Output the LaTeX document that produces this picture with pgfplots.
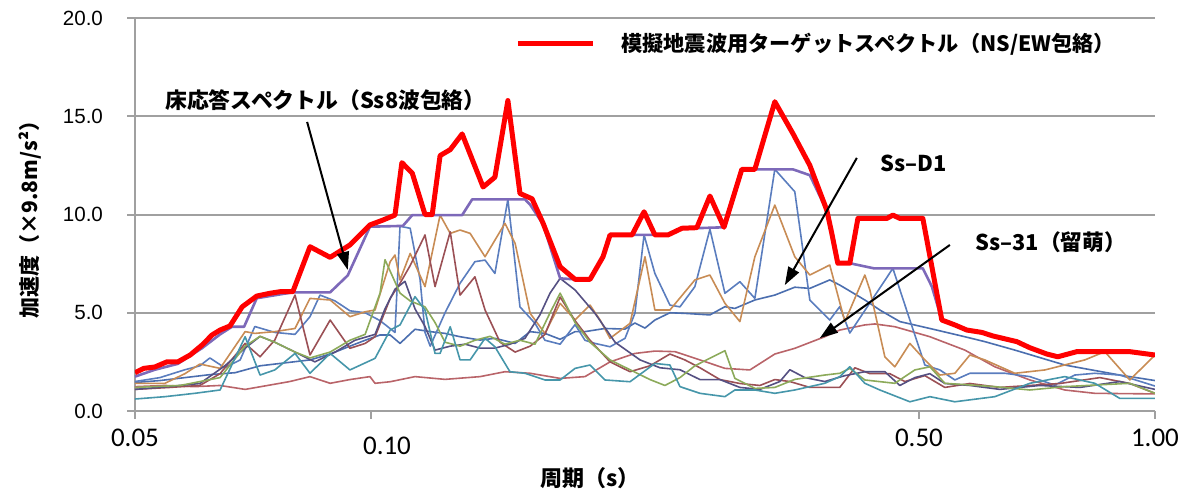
\documentclass[border=0pt]{standalone}
\usepackage{pgfplots}
\pgfplotsset{compat=1.18}
\usepackage{fontspec}
\setmainfont{Noto Sans CJK JP}
\newfontfamily\xtickfont{Carlito}
\newfontfamily\ytickfont{Liberation Sans}
\usetikzlibrary{arrows.meta}
\definecolor{gridgray}{RGB}{160,160,160}
\definecolor{cBlue}{RGB}{90,125,190}
\definecolor{cD1}{RGB}{75,110,175}
\definecolor{cTan}{RGB}{200,140,85}
\definecolor{cMaroon}{RGB}{155,80,85}
\definecolor{cS31}{RGB}{185,100,105}
\definecolor{cNavy}{RGB}{85,80,130}
\definecolor{cGreen}{RGB}{140,170,90}
\definecolor{cTeal}{RGB}{70,150,170}
\definecolor{cPurple}{RGB}{125,105,185}
\pgfplotsset{spec/.style={line width=0.8pt, line join=round, forget plot}}
\begin{document}
\begin{tikzpicture}
\useasboundingbox (-67.5pt,-42pt) rectangle (522.5pt,205.5pt);
\begin{axis}[
  at={(0pt,0pt)}, anchor=south west,
  scale only axis, width=510pt, height=196.5pt,
  xmode=log, xmin=0.05, xmax=1, ymin=0, ymax=20,
  xtick={0.05,0.5,1},
  xticklabels={0.05,0.50,1.00},
  extra x ticks={0.1},
  extra x tick labels={0.10},
  extra x tick style={xticklabel style={xshift=8pt, yshift=-4pt}},
  xminorticks=false,
  ytick={0,5,10,15,20}, yticklabels={0.0,5.0,10.0,15.0,20.0},
  axis lines=left, axis line style={-, draw=gridgray, line width=1pt},
  ymajorgrids, grid style={draw=gridgray, line width=1pt},
  tick align=outside, major tick length=4pt,
  tick style={draw=gridgray, line width=1pt},
  xticklabel style={font=\xtickfont\fontsize{13.5}{15}\selectfont, yshift=-1.5pt},
  yticklabel style={font=\ytickfont\fontsize{10.3}{12}\selectfont, xshift=-8.5pt},
  xlabel={周期（s）},
  ylabel={加速度（×9.8m/s²）},
  xlabel style={at={(axis description cs:0.446,-0.17)}, anchor=center, font=\bfseries\fontsize{11}{13}\selectfont},
  ylabel style={at={(axis description cs:-0.103,0.5)}, anchor=center, font=\bfseries\fontsize{10.5}{13}\selectfont},
  legend style={at={(axis description cs:0.3725,0.934)}, anchor=west, draw=none, fill=none, inner sep=0pt,
    font=\bfseries\fontsize{10.6}{12}\selectfont,
    /tikz/every odd column/.append style={column sep=11pt}},
  legend cell align=left,
  legend image code/.code={\draw[#1] (0pt,0pt) -- (37.5pt,0pt);},
]
% Ss-D1
\addplot[spec, cD1] coordinates {(0.0500,1.45) (0.0538,1.55) (0.0579,1.7) (0.0623,1.85) (0.0671,1.95) (0.0722,2.3) (0.0777,2.45) (0.0836,2.6) (0.0887,2.9) (0.0940,3.3) (0.0983,3.6) (0.1027,3.87) (0.1058,3.87) (0.1089,3.44) (0.1138,4.16) (0.1190,4.04) (0.1243,3.95) (0.1299,3.78) (0.1378,3.61) (0.1439,3.7) (0.1527,3.44) (0.1596,4.04) (0.1667,3.95) (0.1743,3.65) (0.1821,4.04) (0.1875,4.04) (0.1988,4.2) (0.2109,4.17) (0.2171,4.48) (0.2236,4.22) (0.2302,4.63) (0.2406,5.0) (0.2514,4.97) (0.2706,4.89) (0.2828,5.31) (0.2912,5.22) (0.3088,5.65) (0.3274,5.9) (0.3472,6.3) (0.3629,6.24) (0.3848,6.67) (0.3963,6.41) (0.4265,5.65) (0.4457,5.14) (0.4727,4.55) (0.5163,4.2) (0.5721,3.78) (0.6067,3.53) (0.6626,3.1) (0.7673,2.34) (0.9019,1.83) (1.0000,1.55)};
% Ss-31
\addplot[spec, cS31] coordinates {(0.0500,1.24) (0.0546,1.3) (0.0596,1.24) (0.0642,1.3) (0.0691,1.1) (0.0743,1.32) (0.0788,1.5) (0.0836,1.75) (0.0887,1.41) (0.0940,1.6) (0.0997,1.75) (0.1012,1.41) (0.1058,1.49) (0.1138,1.75) (0.1243,1.61) (0.1378,1.75) (0.1482,2.0) (0.1596,1.92) (0.1743,1.66) (0.1875,1.75) (0.2018,2.5) (0.2171,2.93) (0.2302,3.05) (0.2442,3.02) (0.2628,2.6) (0.2828,2.17) (0.3043,2.09) (0.3274,2.9) (0.3472,3.19) (0.3792,3.78) (0.3963,4.12) (0.4265,4.38) (0.4392,4.43) (0.4658,4.29) (0.5163,3.78) (0.5721,3.1) (0.6248,2.25) (0.6925,1.58) (0.7673,1.07) (0.8380,0.9) (1.0000,0.87)};
% blue spiky
\addplot[spec, cBlue] coordinates {(0.0500,1.5) (0.0538,1.7) (0.0579,2.1) (0.0605,2.3) (0.0623,2.7) (0.0651,2.2) (0.0681,2.6) (0.0711,4.3) (0.0754,4.0) (0.0800,3.9) (0.0836,4.8) (0.0861,5.9) (0.0900,5.6) (0.0940,5.1) (0.0983,5.0) (0.1027,4.6) (0.1073,4.0) (0.1089,9.4) (0.1122,9.3) (0.1155,6.7) (0.1172,4.0) (0.1190,3.3) (0.1243,5.0) (0.1299,6.5) (0.1357,7.6) (0.1398,7.68) (0.1439,7.0) (0.1495,10.77) (0.1549,5.3) (0.1619,4.46) (0.1667,3.6) (0.1743,3.4) (0.1821,4.4) (0.1875,3.6) (0.1931,3.44) (0.2018,3.27) (0.2109,3.7) (0.2171,4.98) (0.2230,8.96) (0.2302,7.0) (0.2406,5.39) (0.2478,5.3) (0.2589,6.33) (0.2706,9.25) (0.2828,5.99) (0.2955,6.58) (0.3088,5.73) (0.3274,12.3) (0.3472,11.16) (0.3629,5.65) (0.3848,4.63) (0.3963,5.31) (0.4081,3.97) (0.4329,5.5) (0.4631,7.26) (0.4868,4.63) (0.5087,2.34) (0.5316,2.09) (0.5556,1.58) (0.5806,1.92) (0.6434,1.92) (0.6925,1.75) (0.7451,1.32) (0.7902,1.83) (0.8380,1.92) (0.9019,1.83) (1.0000,1.27)};
% tan
\addplot[spec, cTan] coordinates {(0.0500,1.41) (0.0546,1.41) (0.0579,1.9) (0.0605,2.39) (0.0642,2.17) (0.0691,4.04) (0.0711,3.95) (0.0754,4.04) (0.0800,4.2) (0.0836,5.73) (0.0887,5.65) (0.0940,4.8) (0.0983,5.05) (0.1012,5.14) (0.1058,7.6) (0.1073,7.94) (0.1089,6.67) (0.1122,8.02) (0.1172,6.33) (0.1225,9.97) (0.1262,9.04) (0.1299,9.21) (0.1338,9.04) (0.1398,7.85) (0.1482,9.55) (0.1527,8.53) (0.1596,4.97) (0.1667,3.95) (0.1743,5.48) (0.1821,4.63) (0.1903,5.39) (0.1960,4.63) (0.2018,3.7) (0.2140,4.46) (0.2236,7.85) (0.2302,5.14) (0.2406,5.14) (0.2589,6.67) (0.2706,6.92) (0.2828,5.48) (0.2955,4.55) (0.3088,7.85) (0.3274,10.48) (0.3472,7.85) (0.3629,6.92) (0.3848,7.43) (0.4022,4.55) (0.4265,6.92) (0.4329,6.16) (0.4523,2.76) (0.4658,2.25) (0.4868,3.44) (0.5087,2.6) (0.5316,1.83) (0.5556,1.92) (0.5806,2.85) (0.6067,2.6) (0.6626,1.92) (0.7236,2.09) (0.8138,2.6) (0.8630,3.02) (0.9288,1.58) (1.0000,2.85)};
% maroon spiky
\addplot[spec, cMaroon] coordinates {(0.0500,1.1) (0.0554,1.2) (0.0605,1.3) (0.0642,1.9) (0.0691,3.44) (0.0722,2.76) (0.0754,3.61) (0.0800,5.9) (0.0836,2.85) (0.0887,4.63) (0.0940,3.19) (0.0983,3.44) (0.1012,3.78) (0.1058,5.73) (0.1089,6.5) (0.1122,7.4) (0.1172,8.96) (0.1207,6.33) (0.1262,9.12) (0.1299,5.9) (0.1357,6.83) (0.1398,5.14) (0.1461,3.5) (0.1527,3.0) (0.1596,3.3) (0.1667,3.9) (0.1743,5.8) (0.1821,4.6) (0.1903,3.6) (0.2018,2.5) (0.2140,2.0) (0.2269,2.3) (0.2406,2.9) (0.2514,2.6) (0.2628,2.2) (0.2787,1.6) (0.2955,1.4) (0.3134,1.3) (0.3274,1.6) (0.3422,1.5) (0.3629,1.2) (0.3963,1.2) (0.4142,2.2) (0.4329,1.9) (0.4590,1.9) (0.4797,1.5) (0.5087,1.8) (0.5395,1.2) (0.5806,1.4) (0.6341,1.2) (0.6925,1.3) (0.7562,1.4) (0.8505,1.7) (0.9288,1.4) (1.0000,0.9)};
% navy
\addplot[spec, cNavy] coordinates {(0.0500,1.1) (0.0554,1.25) (0.0605,1.4) (0.0651,2.3) (0.0691,3.2) (0.0722,3.8) (0.0754,3.5) (0.0800,3.0) (0.0848,2.5) (0.0900,3.0) (0.0954,3.6) (0.1012,3.9) (0.1042,5.2) (0.1073,6.2) (0.1105,6.6) (0.1138,5.2) (0.1172,4.3) (0.1207,3.1) (0.1262,3.3) (0.1318,3.4) (0.1378,3.2) (0.1439,3.2) (0.1504,3.4) (0.1572,3.7) (0.1643,4.9) (0.1692,6.0) (0.1743,6.75) (0.1821,6.16) (0.1931,4.97) (0.2048,3.5) (0.2204,2.6) (0.2337,2.2) (0.2478,2.1) (0.2628,1.6) (0.2787,1.6) (0.2955,1.2) (0.3134,1.1) (0.3323,1.5) (0.3422,2.1) (0.3576,1.7) (0.3792,1.5) (0.4022,1.8) (0.4265,2.0) (0.4523,2.0) (0.4727,1.3) (0.4940,1.7) (0.5163,1.9) (0.5395,1.4) (0.5806,1.3) (0.6341,1.1) (0.7130,1.3) (0.8019,1.2) (0.9019,1.5) (1.0000,1.1)};
% green
\addplot[spec, cGreen] coordinates {(0.0500,1.2) (0.0571,1.3) (0.0642,1.7) (0.0691,3.3) (0.0722,3.8) (0.0754,3.5) (0.0800,3.0) (0.0836,2.7) (0.0887,3.0) (0.0940,3.6) (0.0983,3.9) (0.1027,6.0) (0.1042,7.7) (0.1089,6.0) (0.1122,5.6) (0.1172,5.3) (0.1207,4.5) (0.1243,3.5) (0.1299,3.3) (0.1357,3.6) (0.1419,3.8) (0.1482,3.4) (0.1549,3.6) (0.1619,3.4) (0.1692,5.0) (0.1743,6.0) (0.1821,4.5) (0.1903,3.5) (0.2018,2.6) (0.2140,2.1) (0.2269,1.6) (0.2371,1.3) (0.2478,1.7) (0.2589,2.3) (0.2828,3.07) (0.2912,1.66) (0.3088,1.15) (0.3274,1.2) (0.3472,1.61) (0.3792,1.83) (0.3963,1.92) (0.4081,2.17) (0.4265,1.58) (0.4658,1.41) (0.4940,2.09) (0.5163,2.25) (0.5395,1.41) (0.6248,1.24) (0.6925,1.07) (0.7673,1.24) (0.8380,1.32) (0.9288,1.41) (1.0000,0.9)};
% teal
\addplot[spec, cTeal] coordinates {(0.0500,0.61) (0.0546,0.73) (0.0596,0.9) (0.0642,1.07) (0.0691,3.78) (0.0722,1.83) (0.0754,2.09) (0.0800,2.93) (0.0836,1.92) (0.0887,2.93) (0.0940,2.09) (0.1012,2.68) (0.1058,4.12) (0.1089,4.38) (0.1138,5.82) (0.1172,5.14) (0.1207,2.93) (0.1225,2.93) (0.1262,4.29) (0.1299,2.6) (0.1338,2.6) (0.1398,3.7) (0.1439,3.27) (0.1504,2.0) (0.1572,1.92) (0.1667,1.58) (0.1743,1.58) (0.1821,2.17) (0.1903,2.34) (0.1988,1.58) (0.2140,1.49) (0.2302,2.42) (0.2406,2.34) (0.2478,1.24) (0.2628,0.9) (0.2828,0.73) (0.2912,1.07) (0.3088,1.07) (0.3274,0.9) (0.3472,1.07) (0.3792,1.41) (0.3963,1.75) (0.4081,2.25) (0.4265,1.41) (0.4457,1.07) (0.4868,0.47) (0.5163,0.73) (0.5556,0.47) (0.6248,0.73) (0.6925,1.41) (0.7673,1.75) (0.8380,1.41) (0.9019,0.64) (1.0000,0.64)};
% Ss8 envelope (purple)
\addplot[cPurple, line width=1.3pt, line join=round, forget plot] coordinates {(0.0500,1.75) (0.0530,2.1) (0.0567,2.4) (0.0609,3.2) (0.0642,3.9) (0.0665,4.29) (0.0689,4.29) (0.0715,5.74) (0.0795,6.04) (0.0887,6.04) (0.0934,6.9) (0.0997,9.38) (0.1098,9.42) (0.1129,9.97) (0.1307,9.97) (0.1346,10.77) (0.1572,10.77) (0.1596,10.5) (0.1658,9.5) (0.1743,6.75) (0.1821,6.7) (0.1903,6.7) (0.1977,7.8) (0.2018,8.96) (0.2392,8.96) (0.2493,9.28) (0.2820,9.35) (0.2972,12.3) (0.3452,12.3) (0.3629,12.0) (0.3814,10.2) (0.3871,9.0) (0.3940,7.52) (0.4081,7.52) (0.4380,7.26) (0.5057,7.26) (0.5193,6.33) (0.5347,4.63) (0.5556,4.38) (0.5755,4.12) (0.6014,4.0) (0.6211,3.82) (0.6665,3.53) (0.6925,3.22) (0.7279,2.9) (0.7517,2.76) (0.7949,3.02) (0.8580,3.02) (0.9288,3.02) (1.0000,2.85)};
% target spectrum (red)
\addplot[red, line width=2.5pt, line join=round] coordinates {(0.0500,1.95) (0.0513,2.17) (0.0530,2.24) (0.0549,2.5) (0.0567,2.5) (0.0588,2.85) (0.0609,3.36) (0.0627,3.87) (0.0642,4.12) (0.0661,4.33) (0.0685,5.3) (0.0715,5.85) (0.0743,5.99) (0.0765,6.07) (0.0795,6.07) (0.0836,8.36) (0.0887,7.82) (0.0940,8.45) (0.0997,9.47) (0.1036,9.72) (0.1073,9.97) (0.1095,12.64) (0.1129,12.1) (0.1172,10.0) (0.1197,10.0) (0.1225,13.0) (0.1262,13.3) (0.1307,14.1) (0.1390,11.4) (0.1439,11.9) (0.1495,15.8) (0.1549,11.07) (0.1605,10.8) (0.1658,9.55) (0.1743,7.34) (0.1821,6.7) (0.1903,6.7) (0.1977,7.85) (0.2018,8.96) (0.2153,8.96) (0.2230,10.14) (0.2302,8.96) (0.2392,8.96) (0.2493,9.3) (0.2604,9.33) (0.2706,10.94) (0.2820,9.35) (0.2972,12.3) (0.3088,12.3) (0.3274,15.74) (0.3452,14.13) (0.3629,12.5) (0.3814,10.23) (0.3871,9.04) (0.3940,7.52) (0.4081,7.52) (0.4179,9.8) (0.4550,9.8) (0.4631,9.97) (0.4727,9.8) (0.5057,9.8) (0.5347,4.63) (0.5556,4.38) (0.5755,4.12) (0.6014,4.0) (0.6211,3.82) (0.6665,3.53) (0.6925,3.22) (0.7279,2.9) (0.7517,2.76) (0.7949,3.02) (0.8580,3.02) (0.9288,3.02) (1.0000,2.85)};
\addlegendentry{模擬地震波用ターゲットスペクトル（NS/EW包絡）}
% annotations
\node[anchor=west, inner sep=0pt, font=\bfseries\fontsize{10.9}{12}\selectfont] at (axis cs:0.0546,15.83) {床応答スペクトル（Ss8波包絡）};
\draw[-{Triangle[length=9pt,width=6pt]}, line width=1pt] (axis cs:0.0829,14.71) -- (axis cs:0.0934,7.18);
\node[anchor=west, inner sep=0pt, font=\bfseries\fontsize{10.9}{12}\selectfont] at (axis cs:0.4457,12.62) {Ss--D1};
\draw[-{Triangle[length=9pt,width=6pt]}, line width=1pt] (axis cs:0.4166,12.88) -- (axis cs:0.3372,6.41);
\node[anchor=west, inner sep=0pt, font=\bfseries\fontsize{10.9}{12}\selectfont] at (axis cs:0.5892,8.6) {Ss--31（留萌）};
\draw[-{Triangle[length=9pt,width=6pt]}, line width=1pt] (axis cs:0.5475,8.45) -- (axis cs:0.3737,3.71);
\end{axis}
\end{tikzpicture}
\end{document}
